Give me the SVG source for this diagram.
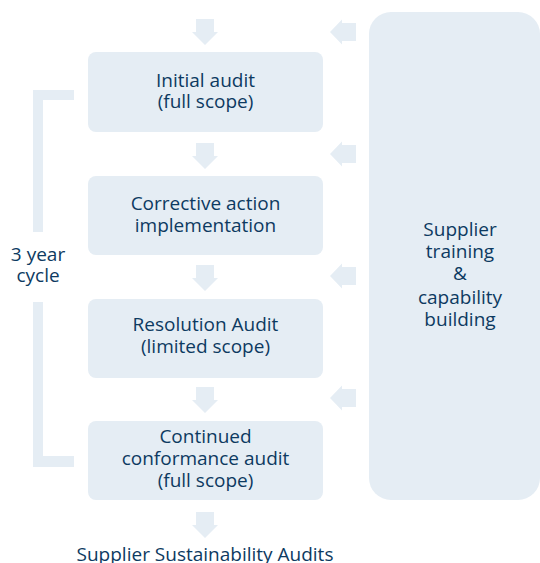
<svg xmlns="http://www.w3.org/2000/svg" width="540" height="563" viewBox="0 0 540 563">
<style>
.box{fill:#e5edf4;}
.shape{fill:#e5edf4;}
text{font-family:"Open Sans","Noto Sans",sans-serif;font-size:19px;fill:#0d3a61;text-anchor:middle;}
</style>
<defs>
<path id="down" d="M-9,0 H9 V13 H13 L0,26 L-13,13 H-9 Z"/>
<path id="left" d="M26,-9 V9 H12 V12.5 L0,0 L12,-12.5 V-9 Z"/>
</defs>
<rect width="540" height="563" fill="#ffffff"/>
<g id="connectors" class="shape">
<use href="#down" x="205" y="19"/>
<use href="#down" x="205" y="143"/>
<use href="#down" x="205" y="265"/>
<use href="#down" x="205" y="387"/>
<use href="#down" x="205" y="512"/>
<use href="#left" x="330" y="32"/>
<use href="#left" x="330" y="154"/>
<use href="#left" x="330" y="276"/>
<use href="#left" x="330" y="398"/>
</g>
<g id="cycle">
<path class="shape" d="M33,90 H74 V100 H43 V232 H33 Z"/>
<path class="shape" d="M33,302 H43 V456 H74 V467 H33 Z"/>
<text x="38" y="260.5">3 year</text>
<text x="38" y="281.5">cycle</text>
</g>
<g id="node1">
<rect class="box" x="88" y="52" width="235" height="80" rx="8"/>
<text x="205.5" y="86.5">Initial audit</text>
<text x="205.5" y="108">(full scope)</text>
</g>
<g id="node2">
<rect class="box" x="88" y="176" width="235" height="79" rx="8"/>
<text x="205.5" y="210">Corrective action</text>
<text x="205.5" y="231.5">implementation</text>
</g>
<g id="node3">
<rect class="box" x="88" y="299" width="235" height="79" rx="8"/>
<text x="205.5" y="331">Resolution Audit</text>
<text x="205.5" y="352.5">(limited scope)</text>
</g>
<g id="node4">
<rect class="box" x="88" y="421" width="235" height="79" rx="8"/>
<text x="205.5" y="442.5">Continued</text>
<text x="205.5" y="465">conformance audit</text>
<text x="205.5" y="487">(full scope)</text>
</g>
<g id="training">
<rect class="box" x="369" y="12" width="171" height="488" rx="22"/>
<text x="460" y="236">Supplier</text>
<text x="460" y="258">training</text>
<text x="460" y="280">&amp;</text>
<text x="460" y="304">capability</text>
<text x="460" y="326">building</text>
</g>
<g id="output">
<text x="205" y="561">Supplier Sustainability Audits</text>
</g>
</svg>
